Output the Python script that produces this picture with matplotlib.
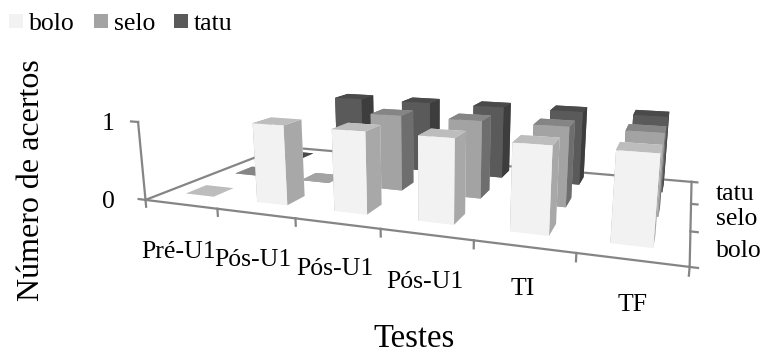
import matplotlib
matplotlib.use('Agg')
import matplotlib.pyplot as plt

plt.rcParams['font.family'] = ['Liberation Serif', 'DejaVu Serif']

testes = ['Pré-U1', 'Pós-U1', 'Pós-U1', 'Pós-U1', 'TI', 'TF']
series = ['bolo', 'selo', 'tatu']
bolo = [0, 1, 1, 1, 1, 1]
selo = [0, 0, 1, 1, 1, 1]
tatu = [0, 1, 1, 1, 1, 1]

W, H = 763, 353
cinza = '#858585'

fig = plt.figure(figsize=(W / 100, H / 100), dpi=100)
# camera fitted on the floor corners of the reference
ax = fig.add_axes([151.0 / W, -80.2 / H, 544.4 / W, 544.4 / H], projection='3d', computed_zorder=False)
ax.set_xlim(0, 6)
ax.set_ylim(0, 3)
ax.set_zlim(0, 1)
ax.view_init(elev=13.197, azim=-70.059, roll=0)
ax.set_proj_type('persp', focal_length=0.2420)
ax.set_box_aspect((6.4764, 3.2559, 1))
ax.set_axis_off()


def linha(xs, ys, zs):
    ax.plot(xs, ys, zs, color=cinza, lw=1.6, zorder=1, clip_on=False)


# floor and axes
linha([0, 6], [0, 0], [0, 0])
linha([6, 6], [0, 3], [0, 0])
linha([0, 6], [3, 3], [0, 0])
linha([0, 0], [0, 3], [0, 0])
linha([0, 0], [0, 0], [0, 1])
for i in range(7):
    linha([i, i], [0, 0], [0, -0.09])
for i in range(4):
    linha([6, 6.07], [i, i], [0, 0])
for i in range(2):
    linha([0, -0.1], [0, 0], [i, i])

cores = {'bolo': ('#f2f2f2', '#bdbdbd', '#a8a8a8'),
         'selo': ('#a3a3a3', '#858585', '#6e6e6e'),
         'tatu': ('#5a5a5a', '#4a4a4a', '#3d3d3d')}
z = 2
for row, (nome, vals) in reversed(list(enumerate(zip(series, [bolo, selo, tatu])))):
    frente, topo, lado = cores[nome]
    for col, v in enumerate(vals):
        b = ax.bar3d(col + 0.27, row + 0.38, 0, 0.40, 0.39, v,
                     color=[frente, topo, frente, frente, lado, lado], shade=False, zorder=z)
        b.set_clip_on(False)
        z += 1


def texto(x, y, s, **kw):
    fig.text(x / W, 1 - y / H, s, va='center', **kw)


# tick labels at reference pixels
for x, y, s in zip([141, 214, 296, 386, 511, 618], [252, 260, 269, 282, 289, 305], testes):
    texto(x, y, s, fontsize=18.5)
for y, s in zip([251, 219, 194], series):
    texto(716, y, s, fontsize=18.5)
texto(102, 124, '1', fontsize=18.5)
texto(102, 202, '0', fontsize=18.5)
texto(414, 339, 'Testes', fontsize=23.5, ha='center')
texto(32, 180, 'Número de acertos', fontsize=23, rotation=90, ha='center')

# legend
for x, s, cor in zip([9, 94, 174], series, ['#f2f2f2', '#a3a3a3', '#5a5a5a']):
    fig.patches.append(plt.Rectangle((x / W, 1 - 28 / H), 14 / W, 14 / H, transform=fig.transFigure, color=cor, lw=0))
    texto(x + 20, 24, s, fontsize=18.5)

fig.savefig('out.png', dpi=100)
